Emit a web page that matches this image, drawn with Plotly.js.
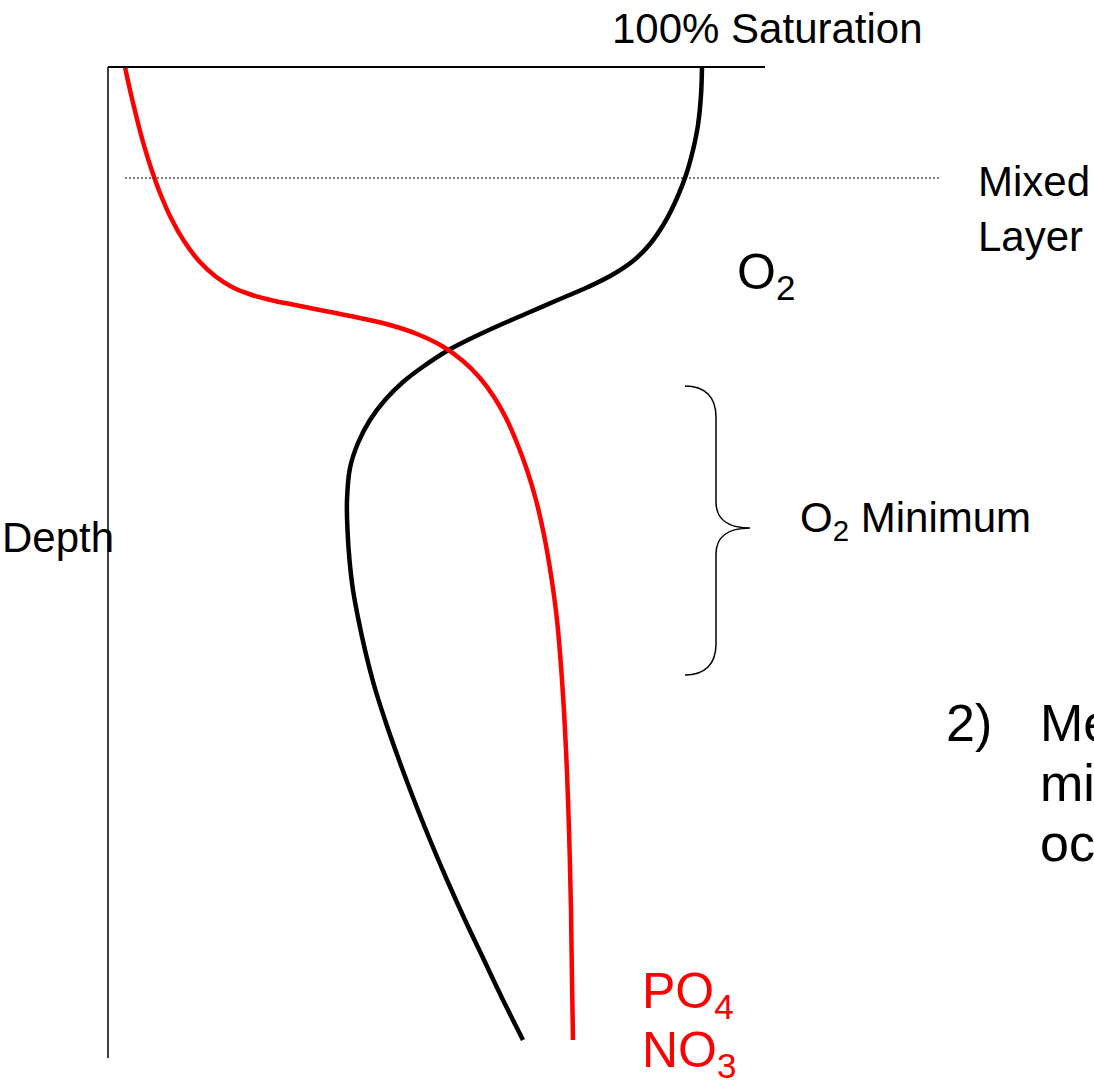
<!DOCTYPE html>
<html>
<head>
<meta charset="utf-8">
<script src="https://cdn.plot.ly/plotly-3.0.1.min.js"></script>
<style>html,body{margin:0;padding:0;background:#fff;}#chart{width:1094px;height:1088px;}</style>
</head>
<body>
<div id="chart"></div>
<script>
// Concentration (arbitrary units, 0 = depth axis) and depth (arbitrary units, 0 = surface)
const o2Conc  = [594,593,590,585,578,569,557,542,525,504,480,452,422,392,364,339,316,295,277,262,250,242,239,239.5,241.5,245,250.5,257,266,277,291,306,322,339,357,376,395,415];
const o2Depth = [0,28,58,83,108,131,155,177,194,208,220,232,245,258,271,284,299,315,333,353,376,401,433,463,493,523,553,583,618,653,693,733,773,813,853,893,933,973];
const nutConc  = [17,22,28,35,43,52,63,76,91,107,124,144,167,192,222,252,282,309,334,355,372,386,398,409,419,428,436,443,449,454,458,461,463,464,465];
const nutDepth = [0,23,48,75,101,126,151,174,194,209,220,228,234,239,245,251,258,267,279,294,311,330,351,376,403,433,468,508,553,613,683,763,843,913,973];
const mixedLayerDepth = 111;
const o2MinTop = 319, o2MinBottom = 608, o2MinMid = 461;
const axisBottom = 991, saturationEnd = 657;

const FONT = '"Liberation Sans", Arial, sans-serif';

const traces = [
  {x: o2Conc, y: o2Depth, mode: 'lines', line: {color: '#000', width: 4.5, shape: 'spline', smoothing: 1, simplify: false}, hoverinfo: 'skip'},
  {x: nutConc, y: nutDepth, mode: 'lines', line: {color: '#ff0000', width: 4.5, shape: 'spline', smoothing: 1, simplify: false}, hoverinfo: 'skip'}
];

const bx0 = 577, bx1 = 608, bx2 = 642;
const bracePath = `M ${bx0} ${o2MinTop} C ${bx0+20} ${o2MinTop} ${bx1} ${o2MinTop+11} ${bx1} ${o2MinTop+31} L ${bx1} ${o2MinMid-26} C ${bx1} ${o2MinMid-9} ${bx1+12} ${o2MinMid} ${bx2} ${o2MinMid} C ${bx1+12} ${o2MinMid} ${bx1} ${o2MinMid+9} ${bx1} ${o2MinMid+26} L ${bx1} ${o2MinBottom-31} C ${bx1} ${o2MinBottom-11} ${bx0+20} ${o2MinBottom} ${bx0} ${o2MinBottom}`;

const shapes = [
  {type: 'line', x0: 0, x1: 0, y0: 0, y1: axisBottom, line: {color: '#000', width: 1.5}},
  {type: 'line', x0: 0, x1: saturationEnd, y0: 0, y1: 0, line: {color: '#000', width: 2}},
  {type: 'line', x0: 17, x1: 832, y0: mixedLayerDepth, y1: mixedLayerDepth, line: {color: '#000', width: 1, dash: '2px,2px'}},
  {type: 'path', path: bracePath, line: {color: '#000', width: 1.5}}
];

function ann(text, x, y, size, opts) {
  return Object.assign({text: text, x: x, y: y, xref: 'x', yref: 'y', showarrow: false,
    xanchor: 'left', yanchor: 'middle', align: 'left',
    font: {family: FONT, size: size, color: '#000'}}, opts || {});
}

const annotations = [
  ann('100% Saturation', 659, -39, 42, {xanchor: 'center'}),
  ann('Mixed<br>Layer', 868, 142, 42),
  ann('O<sub>2</sub>', 627, 208, 50),
  ann('O<sub>2</sub> Minimum', 690, 453, 42),
  ann('Depth', -108, 470, 42),
  ann('2)', 836, 656, 52),
  ann('Me', 930, 656, 52),
  ann('mi', 930, 716, 52),
  ann('oc', 930, 776, 52),
  ann('PO<sub>4</sub>', 532, 927, 50, {font: {family: FONT, size: 50, color: '#ff0000'}}),
  ann('NO<sub>3</sub>', 532, 986, 50, {font: {family: FONT, size: 50, color: '#ff0000'}})
];

const hidden = {showgrid: false, zeroline: false, showticklabels: false, ticks: '', showline: false, fixedrange: true};

const layout = {
  width: 1094, height: 1088,
  margin: {l: 0, r: 0, t: 0, b: 0},
  paper_bgcolor: '#fff', plot_bgcolor: '#fff',
  showlegend: false,
  xaxis: Object.assign({range: [-108, 986]}, hidden),
  yaxis: Object.assign({range: [1021, -67]}, hidden),
  shapes: shapes,
  annotations: annotations
};

Plotly.newPlot('chart', traces, layout, {displayModeBar: false, staticPlot: true});
</script>
</body>
</html>
